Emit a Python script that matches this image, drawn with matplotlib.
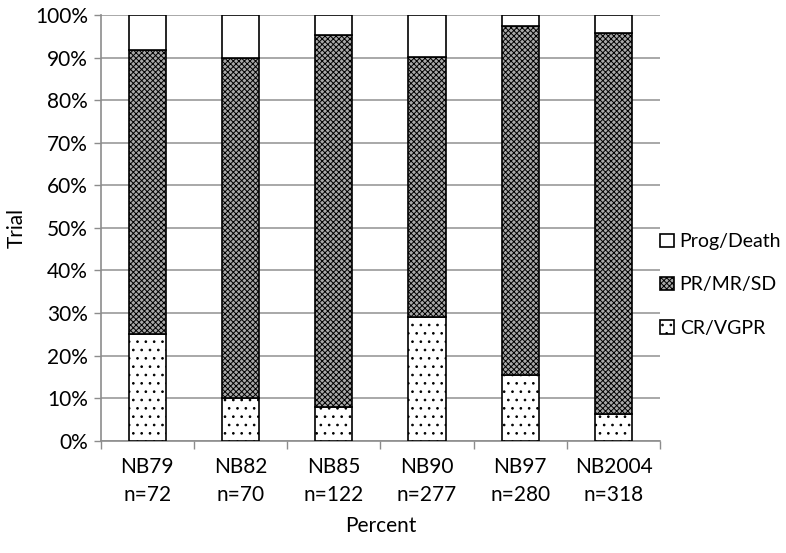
import matplotlib.pyplot as plt
import numpy as np
from matplotlib.ticker import PercentFormatter, FixedLocator

plt.rcParams['font.family'] = ['Lato', 'DejaVu Sans']
plt.rcParams['hatch.linewidth'] = 0.7

trials = ['NB79\nn=72', 'NB82\nn=70', 'NB85\nn=122', 'NB90\nn=277', 'NB97\nn=280', 'NB2004\nn=318']
cr_vgpr = [25.0, 10.0, 8.0, 29.0, 15.4, 6.3]
pr_mr_sd = [66.7, 80.0, 87.3, 61.2, 82.1, 89.4]
prog_death = [8.3, 10.0, 4.7, 9.8, 2.5, 4.3]

fig, ax = plt.subplots(figsize=(7.86, 5.53), dpi=100)
fig.subplots_adjust(left=0.128, right=0.84, top=0.973, bottom=0.203)

x = np.arange(len(trials))
w = 0.4
b1 = ax.bar(x, cr_vgpr, w, color='white', edgecolor='black', hatch='..', linewidth=1.2, label='CR/VGPR', zorder=3)
bottom2 = np.array(cr_vgpr)
b2 = ax.bar(x, pr_mr_sd, w, bottom=bottom2, color='#a8a8a8', edgecolor='black', hatch='xxxxxx', linewidth=1.2, label='PR/MR/SD', zorder=3)
bottom3 = bottom2 + np.array(pr_mr_sd)
b3 = ax.bar(x, prog_death, w, bottom=bottom3, color='white', edgecolor='black', linewidth=1.2, label='Prog/Death', zorder=3)

ax.set_xlim(-0.5, len(trials) - 0.5)
ax.set_ylim(0, 100)
ax.set_yticks(np.arange(0, 101, 10))
ax.yaxis.set_major_formatter(PercentFormatter(decimals=0))
ax.set_xticks(x)
ax.set_xticklabels(trials, fontsize=15, linespacing=1.45)
ax.xaxis.set_minor_locator(FixedLocator(np.arange(-0.5, len(trials), 1)))
ax.tick_params(axis='x', which='major', length=0, pad=12)
ax.tick_params(axis='x', which='minor', length=6, color='#8c8c8c', width=1)
ax.tick_params(axis='y', length=5, color='#8c8c8c', width=1, labelsize=15, pad=4)
ax.grid(axis='y', color='#9a9a9a', linewidth=1.2, zorder=0)

for s in ['top', 'right']:
    ax.spines[s].set_visible(False)
for s in ['left', 'bottom']:
    ax.spines[s].set_color('#8c8c8c')
    ax.spines[s].set_linewidth(1.2)

ax.set_xlabel('Percent', fontsize=15, labelpad=8)
ax.set_ylabel('Trial', fontsize=15, labelpad=6)

ax.legend(handles=[b3, b2, b1], frameon=False, fontsize=14, loc='center left',
          bbox_to_anchor=(1.0, 0.366), labelspacing=1.35, handlelength=0.7,
          handleheight=0.7, handletextpad=0.3, borderaxespad=0, borderpad=0)

fig.savefig('out.png')
